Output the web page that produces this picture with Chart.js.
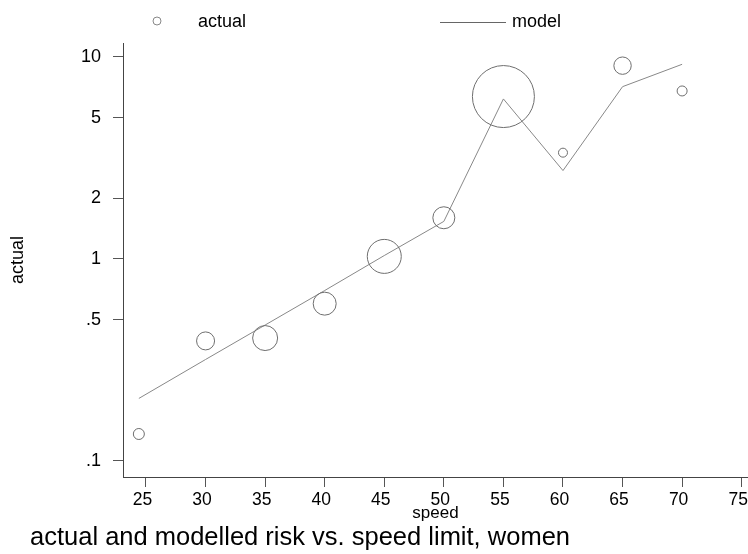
<!DOCTYPE html>
<html><head><meta charset="utf-8">
<script src="https://cdn.jsdelivr.net/npm/chart.js@4"></script>
<style>html,body{margin:0;padding:0;background:#fff}#wrap{width:748px;height:554px;position:relative}</style>
</head><body><div id="wrap"><canvas id="c" width="748" height="554"></canvas></div>
<script>
const speeds = [24.4, 30, 35, 40, 45, 50, 55, 60, 65, 70];
const actualRisk = [0.136, 0.393, 0.406, 0.601, 1.03, 1.60, 6.37, 3.36, 9.06, 6.79];
const actualWeight = [5.5, 9, 12.5, 11.5, 17, 11, 31, 4.5, 8.7, 5];
const modelRisk = [0.204, 0.318, 0.471, 0.698, 1.04, 1.535, 6.2, 2.74, 7.13, 9.2];
const xTicks = [25, 30, 35, 40, 45, 50, 55, 60, 65, 70, 75];
const yTicks = [0.1, 0.5, 1, 2, 5, 10];
const yTickLabels = ['.1', '.5', '1', '2', '5', '10'];
const titleText = 'actual and modelled risk vs. speed limit, women';
const legendLabels = ['actual', 'model'];

const FONT = '"Liberation Sans", Arial, Helvetica, sans-serif';

const textPlugin = {
  id: 'extraText',
  afterDraw(chart) {
    const ctx = chart.ctx;
    ctx.save();
    ctx.fillStyle = '#000';
    ctx.textBaseline = 'alphabetic';
    ctx.textAlign = 'left';
    ctx.font = '25.5px ' + FONT;
    ctx.fillText(titleText, 30, 545);
    // legend
    ctx.strokeStyle = '#888';
    ctx.lineWidth = 1;
    ctx.beginPath();
    ctx.arc(157, 21, 4, 0, Math.PI * 2);
    ctx.stroke();
    ctx.strokeStyle = '#666';
    ctx.beginPath();
    ctx.moveTo(440, 22.5);
    ctx.lineTo(506, 22.5);
    ctx.stroke();
    ctx.font = '18px ' + FONT;
    ctx.textBaseline = 'middle';
    ctx.fillText(legendLabels[0], 198, 22);
    ctx.fillText(legendLabels[1], 512, 22);
    ctx.restore();
  }
};

new Chart(document.getElementById('c'), {
  type: 'bubble',
  data: {
    datasets: [
      {
        type: 'bubble',
        label: legendLabels[0],
        data: speeds.map((s, i) => ({ x: s, y: actualRisk[i], r: actualWeight[i] })),
        borderColor: '#6e6e6e',
        backgroundColor: 'rgba(0,0,0,0)',
        borderWidth: 1
      },
      {
        type: 'line',
        label: legendLabels[1],
        data: speeds.map((s, i) => ({ x: s, y: modelRisk[i] })),
        borderColor: '#888',
        borderWidth: 1,
        pointRadius: 0,
        fill: false,
        tension: 0
      }
    ]
  },
  options: {
    responsive: false,
    animation: false,
    devicePixelRatio: 1,
    layout: { autoPadding: false, padding: { top: 43, left: 0, right: 0, bottom: 30 } },
    plugins: { legend: { display: false }, tooltip: { enabled: false }, title: { display: false } },
    scales: {
      x: {
        type: 'linear',
        min: 23.07,
        max: 75.53,
        afterBuildTicks: s => { s.ticks = xTicks.map(v => ({ value: v })); },
        afterFit: s => { s.height = 47; s.paddingLeft = 0; s.paddingRight = 0; },
        ticks: { autoSkip: false, maxRotation: 0, padding: 3, labelOffset: -3.5, color: '#000', font: { family: FONT, size: 17.5 } },
        grid: { drawOnChartArea: false, drawTicks: true, tickLength: 10, color: '#555', lineWidth: 1 },
        border: { display: true, color: '#444', width: 1 },
        title: { display: true, text: 'speed', color: '#000', font: { family: FONT, size: 17 }, padding: { top: 0, bottom: 0 } }
      },
      y: {
        type: 'logarithmic',
        min: 0.0833,
        max: 11.73,
        afterBuildTicks: s => { s.ticks = yTicks.map(v => ({ value: v })); },
        afterFit: s => { s.width = 123; s.paddingTop = 0; s.paddingBottom = 0; },
        ticks: {
          autoSkip: false, padding: 12, color: '#000', font: { family: FONT, size: 18 },
          callback: (v) => yTickLabels[yTicks.indexOf(v)]
        },
        grid: { drawOnChartArea: false, drawTicks: true, tickLength: 10, color: '#555', lineWidth: 1 },
        border: { display: true, color: '#444', width: 1 },
        title: { display: true, text: 'actual', color: '#000', font: { family: FONT, size: 18 }, padding: { top: 7, bottom: 0 } }
      }
    }
  },
  plugins: [textPlugin]
});
</script>
</body></html>
